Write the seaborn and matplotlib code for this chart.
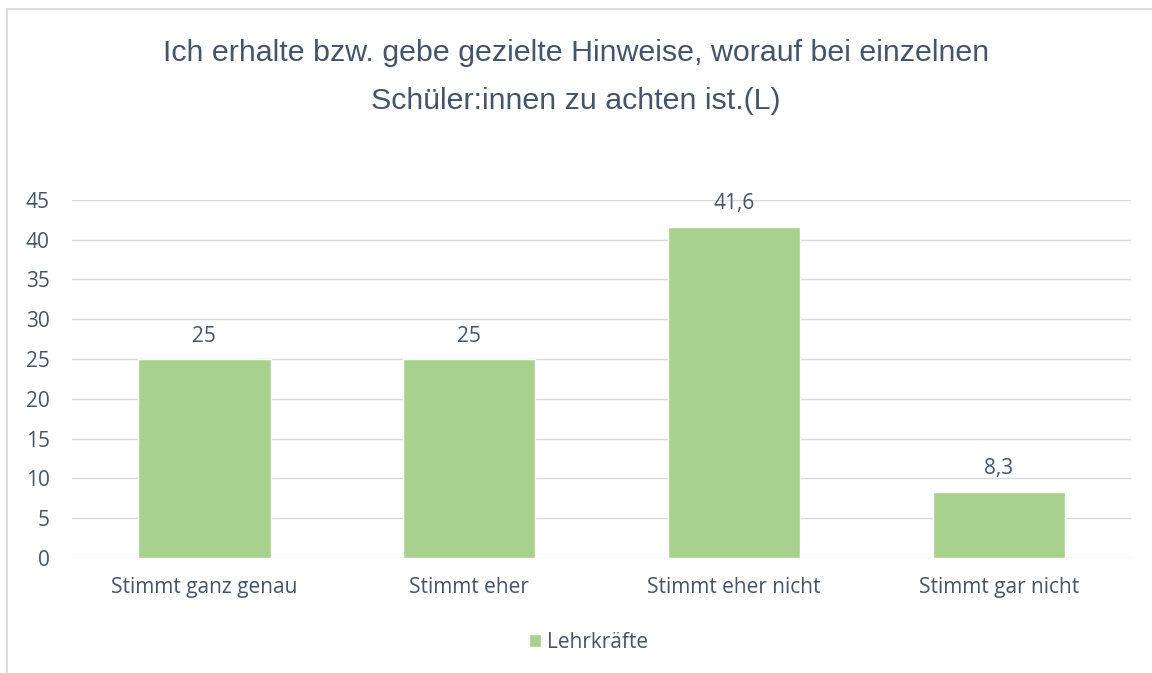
import matplotlib
matplotlib.use("Agg")
import matplotlib.pyplot as plt
import seaborn as sns
import pandas as pd
from matplotlib.patches import Rectangle, Patch
from matplotlib import font_manager

categories = ["Stimmt ganz genau", "Stimmt eher", "Stimmt eher nicht", "Stimmt gar nicht"]
values = [25, 25, 41.6, 8.3]
value_labels = ["25", "25", "41,6", "8,3"]
series_name = "Lehrkräfte"
title = "Ich erhalte bzw. gebe gezielte Hinweise, worauf bei einzelnen\nSchüler:innen zu achten ist.(L)"

df = pd.DataFrame({"Kategorie": categories, "Wert": values})

sns.set_style("white")
names = {f.name for f in font_manager.fontManager.ttflist}
body_font = "Open Sans" if "Open Sans" in names else "DejaVu Sans"
title_font = "Liberation Sans Narrow" if "Liberation Sans Narrow" in names else "Liberation Sans"
plt.rcParams["font.family"] = [body_font, "DejaVu Sans"]

text_col = "#44546A"
bar_col = "#A9D18E"
grid_col = "#D9D9D9"

fig = plt.figure(figsize=(11.52, 6.73), dpi=100)
ax = fig.add_axes([0.0625, 0.171, 0.9195, 0.532])

sns.barplot(data=df, x="Kategorie", y="Wert", color=bar_col, width=0.5,
            saturation=1, ax=ax, zorder=3)

ax.set_ylim(0, 45)
ax.set_yticks(range(0, 46, 5))
ax.set_xlim(-0.5, len(categories) - 0.5)
ax.grid(axis="y", color=grid_col, linewidth=1, zorder=0)
for s in ax.spines.values():
    s.set_visible(False)
ax.set_xlabel("")
ax.set_ylabel("")
ax.tick_params(axis="both", length=0, labelsize=15, labelcolor=text_col)
ax.tick_params(axis="y", pad=16)
ax.tick_params(axis="x", pad=14)

for i, (v, lab) in enumerate(zip(values, value_labels)):
    ax.annotate(lab, (i, v), xytext=(0, 9), textcoords="offset points",
                ha="center", va="bottom", fontsize=15, color=text_col)

fig.text(0.5, 0.942, title, ha="center", va="top", fontsize=21.9,
         color=text_col, family=[title_font, "DejaVu Sans"], linespacing=1.9)

leg = fig.legend(handles=[Patch(facecolor=bar_col, label=series_name)],
                 loc="center", bbox_to_anchor=(0.511, 0.046), frameon=False,
                 fontsize=15, handlelength=0.6, handleheight=0.6,
                 handletextpad=0.3, labelcolor=text_col)

fig.patches.append(Rectangle((7 / 1152, -0.1), 1.2, 1 - 9 / 673 + 0.1,
                             transform=fig.transFigure, fill=False,
                             edgecolor="#D9D9D9", linewidth=1.2))

fig.savefig("out.png", dpi=100)
